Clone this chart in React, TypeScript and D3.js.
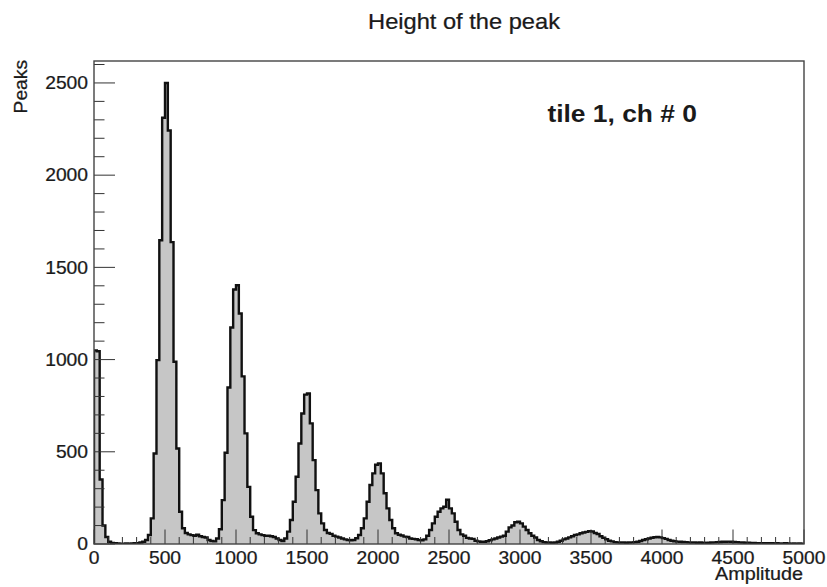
import React from "react";
import * as d3 from "d3";

// ---- data ----
const X_MIN = 0;
const X_MAX = 5000;
const BIN_WIDTH = 20;
const Y_MAX = 2619;

// counts per 20-unit bin, 0..5000 (250 bins)
const counts: number[] = [
  1050, 1045, 350, 100, 38, 12, 6, 4, 3, 2,
  2, 3, 2, 3, 4, 5, 8, 12, 22, 49,
  139, 491, 997, 1647, 2311, 2500, 2242, 1637, 988, 518,
  175, 85, 60, 52, 48, 45, 50, 42, 38, 35,
  22, 16, 14, 30, 80, 238, 495, 849, 1174, 1380,
  1403, 1250, 909, 600, 310, 148, 75, 58, 52, 48,
  45, 45, 42, 38, 30, 22, 16, 30, 67, 130,
  229, 365, 545, 708, 810, 816, 654, 455, 292, 166,
  112, 76, 60, 55, 45, 40, 35, 30, 25, 22,
  20, 22, 31, 49, 85, 139, 229, 320, 383, 430,
  437, 383, 275, 193, 130, 85, 58, 50, 46, 40,
  38, 30, 28, 26, 22, 20, 25, 45, 76, 112,
  148, 175, 193, 202, 240, 193, 166, 121, 76, 52,
  45, 33, 30, 28, 18, 14, 12, 12, 15, 20,
  25, 30, 35, 40, 45, 67, 90, 100, 118, 121,
  112, 94, 76, 58, 45, 35, 22, 15, 10, 8,
  8, 7, 8, 12, 18, 25, 30, 36, 42, 49,
  52, 58, 62, 66, 70, 68, 60, 54, 42, 34,
  26, 18, 14, 10, 9, 8, 8, 7, 8, 9,
  10, 12, 16, 22, 26, 30, 34, 37, 38, 36,
  32, 28, 22, 18, 15, 13, 12, 11, 10, 9,
  8, 8, 7, 8, 7, 6, 7, 8, 9, 10,
  11, 12, 12, 13, 12, 11, 10, 9, 8, 7,
  7, 6, 6, 5, 5, 4, 5, 4, 4, 3,
  4, 3, 3, 4, 3, 2, 3, 2, 3, 2,
];

const xTickLabels = [0, 500, 1000, 1500, 2000, 2500, 3000, 3500, 4000, 4500, 5000];
const yTickLabels = [0, 500, 1000, 1500, 2000, 2500];
const xMinorStep = 100;
const yMinorStep = 100;

const TITLE = "Height of the peak";
const LABEL = "tile 1, ch # 0";
const X_TITLE = "Amplitude";
const Y_TITLE = "Peaks";

// ---- layout ----
const W = 827;
const H = 587;
const L = 94;
const R = 804;
const T = 61;
const B = 544;
const FONT = "'Liberation Sans', Arial, Helvetica, sans-serif";
const SX = 1.1;

function T2({ x, y, size, anchor = "start", bold = false, rotate = 0, children }: any) {
  return (
    <text
      transform={`translate(${x},${y}) rotate(${rotate}) scale(${SX},1)`}
      fontFamily={FONT}
      fontSize={size}
      fontWeight={bold ? "bold" : "normal"}
      textAnchor={anchor}
      fill="#1a1a1a"
      stroke="#1a1a1a"
      strokeWidth={bold ? 0 : 0.25}
    >
      {children}
    </text>
  );
}

export default function App() {
  const x = d3.scaleLinear().domain([X_MIN, X_MAX]).range([L, R]);
  const y = d3.scaleLinear().domain([0, Y_MAX]).range([B, T]);

  const pts: [number, number][] = counts.map((c, i) => [X_MIN + i * BIN_WIDTH, c]);
  pts.push([X_MIN + counts.length * BIN_WIDTH, counts[counts.length - 1]]);

  const area = d3
    .area<[number, number]>()
    .x((d) => x(d[0]))
    .y0(y(0))
    .y1((d) => y(d[1]))
    .curve(d3.curveStepAfter);

  const outlinePts: [number, number][] = [[X_MIN, 0], ...pts, [X_MAX, 0]];
  const line = d3
    .line<[number, number]>()
    .x((d) => x(d[0]))
    .y((d) => y(d[1]))
    .curve(d3.curveStepAfter);

  const xMinor = d3.range(X_MIN, X_MAX + 1, xMinorStep);
  const yMinor = d3.range(0, Y_MAX, yMinorStep);
  const xMajLen = 14.5;
  const xMinLen = 7;
  const yMajLen = 21;
  const yMinLen = 10.5;

  return (
    <svg
      width={W}
      height={H}
      style={{ position: "absolute", left: 0, top: 0, background: "#fff" }}
    >
      <rect x={0} y={0} width={W} height={H} fill="#fff" />
      <defs>
        <clipPath id="frame">
          <rect x={L} y={T} width={R - L} height={B - T} />
        </clipPath>
      </defs>
      <g clipPath="url(#frame)">
        <path d={area(pts) || ""} fill="#c6c6c6" stroke="none" />
        <path
          d={line(outlinePts) || ""}
          fill="none"
          stroke="#111"
          strokeWidth={2.4}
          strokeLinejoin="miter"
        />
      </g>
      {/* x ticks */}
      {xMinor.map((v) => {
        const major = v % 500 === 0;
        return (
          <line
            key={"xm" + v}
            x1={x(v)}
            x2={x(v)}
            y1={B}
            y2={B - (major ? xMajLen : xMinLen)}
            stroke="#333"
            strokeWidth={1}
          />
        );
      })}
      {/* y ticks */}
      {yMinor.map((v) => {
        const major = v % 500 === 0;
        return (
          <line
            key={"ym" + v}
            x1={L}
            x2={L + (major ? yMajLen : yMinLen)}
            y1={y(v)}
            y2={y(v)}
            stroke="#333"
            strokeWidth={1}
          />
        );
      })}
      {/* frame */}
      <rect x={L} y={T} width={R - L} height={B - T} fill="none" stroke="#444" strokeWidth={1.4} />
      {/* tick labels */}
      {xTickLabels.map((v) => (
        <T2 key={"xl" + v} x={x(v)} y={564} size={17.5} anchor="middle">
          {String(v)}
        </T2>
      ))}
      {yTickLabels.map((v) => (
        <T2 key={"yl" + v} x={88} y={y(v) + 6.3} size={17.5} anchor="end">
          {String(v)}
        </T2>
      ))}
      {/* titles */}
      <T2 x={464} y={29} size={21.5} anchor="middle">
        {TITLE}
      </T2>
      <T2 x={697} y={122} size={24} anchor="end" bold>
        {LABEL}
      </T2>
      <T2 x={803} y={580} size={18} anchor="end">
        {X_TITLE}
      </T2>
      <T2 x={27} y={60} size={17.5} anchor="end" rotate={-90}>
        {Y_TITLE}
      </T2>
    </svg>
  );
}
